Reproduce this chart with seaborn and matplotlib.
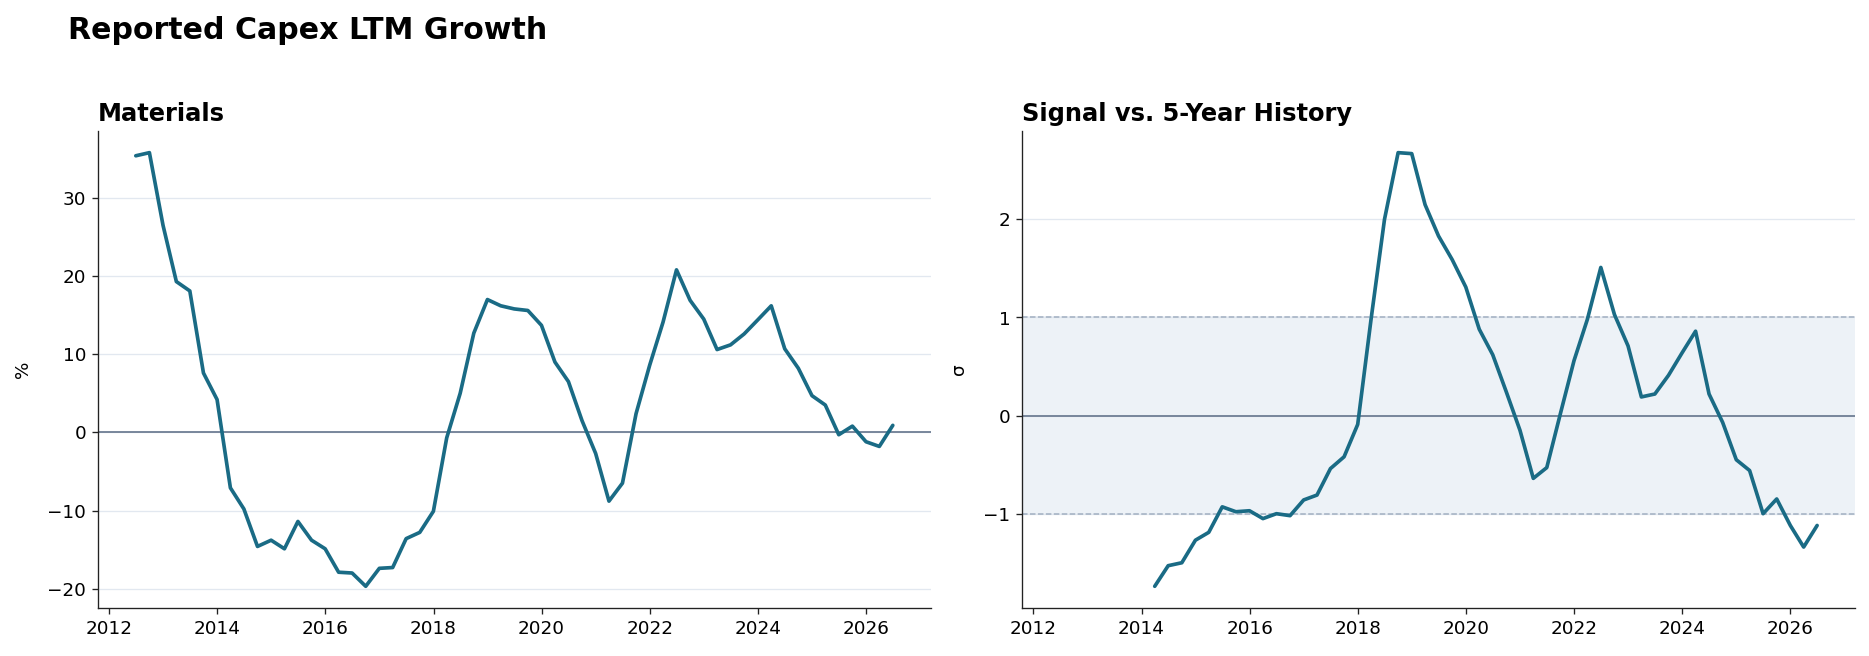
import numpy as np
import pandas as pd
import matplotlib
matplotlib.use("Agg")
import matplotlib.pyplot as plt
import seaborn as sns

# quarterly LTM capex growth, Materials (%)
growth_start = "2012Q2"
growth_pct = [35.4, 35.8, 26.5, 19.3, 18.1, 7.6, 4.2, -7.1, -9.8, -14.6,
              -13.8, -14.9, -11.4, -13.8, -14.9, -17.9, -18.0, -19.7, -17.4, -17.3,
              -13.6, -12.8, -10.1, -0.7, 5.0, 12.7, 17.0, 16.2, 15.8, 15.6,
              13.7, 9.0, 6.5, 1.5, -2.7, -8.8, -6.5, 2.4, 8.6, 14.1,
              20.8, 16.9, 14.5, 10.6, 11.2, 12.6, 14.4, 16.2, 10.7, 8.2,
              4.7, 3.5, -0.3, 0.8, -1.2, -1.8, 0.9]

# z-score of growth vs trailing 5-year history
signal_start = "2014Q1"
signal_z = [-1.74, -1.53, -1.50, -1.27, -1.19, -0.93, -0.98, -0.97, -1.05, -1.00,
            -1.02, -0.86, -0.81, -0.54, -0.42, -0.09, 0.98, 2.00, 2.68, 2.67,
            2.15, 1.83, 1.59, 1.31, 0.88, 0.62, 0.24, -0.15, -0.64, -0.53,
            0.02, 0.56, 0.98, 1.51, 1.03, 0.71, 0.19, 0.22, 0.41, 0.64,
            0.86, 0.22, -0.07, -0.45, -0.56, -1.00, -0.85, -1.12, -1.34, -1.12]


def quarter_ends(start, n):
    return pd.period_range(start, periods=n, freq="Q").end_time.normalize()


df_growth = pd.DataFrame({"date": quarter_ends(growth_start, len(growth_pct)),
                          "value": growth_pct})
df_signal = pd.DataFrame({"date": quarter_ends(signal_start, len(signal_z)),
                          "value": signal_z})

LINE = "#1a6b85"
ZERO = "#718096"
GRID = "#e2e8f0"

sns.set_style("ticks", {"axes.edgecolor": "#222222", "text.color": "black",
                        "axes.labelcolor": "black", "xtick.color": "#222222",
                        "ytick.color": "#222222"})
plt.rcParams["font.family"] = ["DejaVu Sans"]
plt.rcParams["xtick.labelcolor"] = "black"
plt.rcParams["ytick.labelcolor"] = "black"

fig, (ax1, ax2) = plt.subplots(1, 2, figsize=(15.575, 5.467), dpi=120, sharex=True)
fig.subplots_adjust(left=0.0524, right=0.9925, bottom=0.0732, top=0.8003, wspace=0.11)

sns.lineplot(data=df_growth, x="date", y="value", ax=ax1, color=LINE, linewidth=2.2)
sns.lineplot(data=df_signal, x="date", y="value", ax=ax2, color=LINE, linewidth=2.2)

ax2.axhspan(-1, 1, color="#edf2f7", zorder=0)
for lvl in (-1, 1):
    ax2.axhline(lvl, color="#a0aec0", linestyle="--", linewidth=0.9, zorder=1)

for ax, title, ylab in [(ax1, "Materials", "%"), (ax2, "Signal vs. 5-Year History", "σ")]:
    ax.axhline(0, color=ZERO, linewidth=1.1, zorder=1)
    ax.grid(axis="y", color=GRID, linewidth=0.8)
    ax.set_axisbelow(True)
    ax.set_title(title, loc="left", fontsize=14.5, fontweight="bold")
    ax.set_ylabel(ylab, fontsize=11, labelpad=9)
    ax.set_xlabel("")
    ax.tick_params(labelsize=11)
    sns.despine(ax=ax)

fig.suptitle("Reported Capex LTM Growth", x=0.0364, y=0.975, ha="left",
             fontsize=18, fontweight="bold")

fig.savefig("out.png", dpi=120)
